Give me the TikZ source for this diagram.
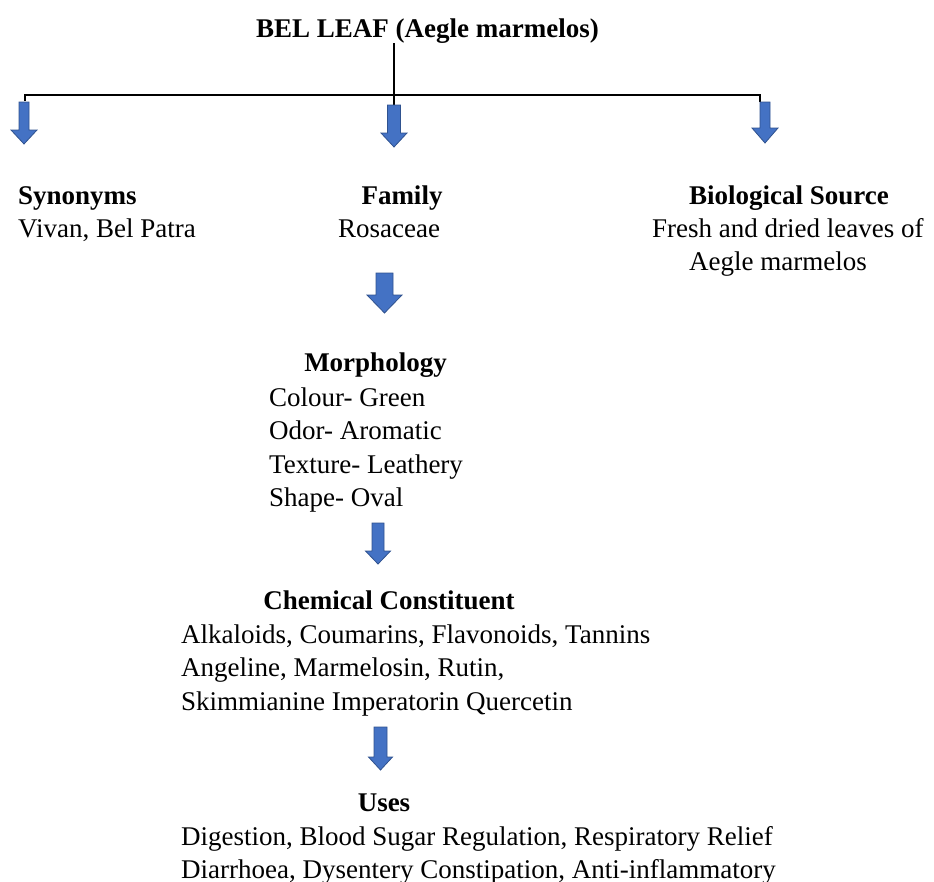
\documentclass[tikz,border=0pt]{standalone}
\usepackage{fontspec}
\setmainfont{Liberation Serif}
\usepackage{xcolor}
\usetikzlibrary{positioning}
\usetikzlibrary{calc}

\definecolor{arrowfill}{RGB}{68,114,196}
\definecolor{arrowline}{RGB}{47,82,143}

% block arrow pointing down: x, top, tip, shaft width, head width, head length
\newcommand{\blockdown}[6]{%
	\filldraw[fill=arrowfill, draw=arrowline, line width=0.8pt]
	({#1-#4/2},#2) -- ({#1+#4/2},#2) -- ({#1+#4/2},{#3-#6}) -- ({#1+#5/2},{#3-#6})
	-- (#1,#3) -- ({#1-#5/2},{#3-#6}) -- ({#1-#4/2},{#3-#6}) -- cycle;}

\begin{document}
\begin{tikzpicture}[x=1pt, y=-1pt,
		txt/.style={inner sep=0pt, font=\fontsize{27}{33.5}\selectfont},
		head/.style={txt, font=\fontsize{27}{33.5}\selectfont\bfseries},
		bar/.style={line width=2pt}]
		\useasboundingbox (0,0) rectangle (934,881);
		
		% multi-line nodes are placed by the baseline of their last line
		\draw (427.5,37) node[head, anchor=base] (title) {BEL LEAF (Aegle marmelos)}
		(18,204) node[head, anchor=base west] (syn) {Synonyms}
		(18,237) node[txt, anchor=base west] (synbody) {Vivan, Bel Patra}
		(402,204) node[head, anchor=base] (fam) {Family}
		(338,237) node[txt, anchor=base west] (fambody) {Rosaceae}
		(789,204) node[head, anchor=base] (bio) {Biological Source}
		(652,270.5) node[txt, anchor=base west, align=left] (biobody) {Fresh and dried leaves of\\\hspace*{37pt}Aegle marmelos}
		(375.5,371) node[head, anchor=base] (morph) {Morphology}
		(269,506.5) node[txt, anchor=base west, align=left] (morphbody) {Colour- Green\\Odor- Aromatic\\Texture- Leathery\\Shape- Oval}
		(389,609) node[head, anchor=base] (chem) {Chemical Constituent}
		(181,710) node[txt, anchor=base west, align=left] (chembody) {Alkaloids, Coumarins, Flavonoids, Tannins\\Angeline, Marmelosin, Rutin,\\Skimmianine Imperatorin Quercetin}
		(384,811) node[head, anchor=base] (uses) {Uses}
		(181,878.5) node[txt, anchor=base west, align=left] (usesbody) {Digestion, Blood Sugar Regulation, Respiratory Relief\\Diarrhoea, Dysentery Constipation, Anti-inflammatory};
		
		% tree from the title
		\coordinate (hub) at (394,95);
		\coordinate (barL) at (25,95);
		\coordinate (barR) at (760,95);
		\draw[line width=1.5pt] (title.south -| hub) -- (hub) -- ++(0,10);
		\draw[bar] ($(barL)+(0,6)$) -- (barL) -- (barR) -- ++(0,7);
		
		\blockdown{24}{102}{144}{10}{26}{14}
		\blockdown{394}{105}{147}{13}{26}{14}
		\blockdown{765}{102}{143}{10}{26}{15}
		\blockdown{384.5}{273}{313}{17}{35}{18}
		\blockdown{378}{523}{564}{12}{25}{13}
		\blockdown{380.5}{727}{770}{13}{24}{13}
	\end{tikzpicture}
\end{document}
